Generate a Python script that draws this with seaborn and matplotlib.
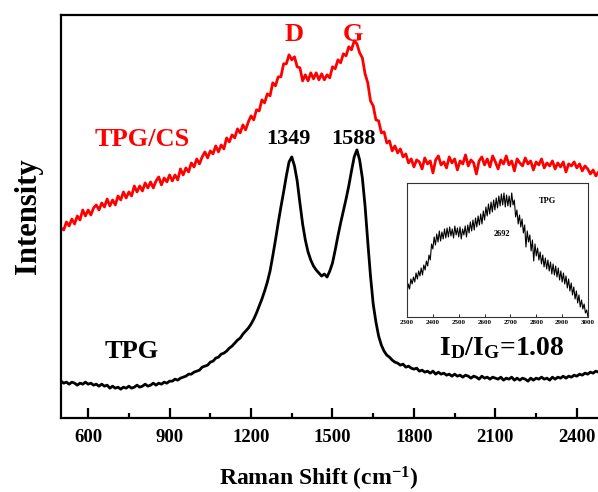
import numpy as np
import pandas as pd
import matplotlib
matplotlib.use("Agg")
import matplotlib.pyplot as plt
import seaborn as sns
from matplotlib.ticker import MultipleLocator

# Raman shift grid of the main spectra (cm-1), one value every 10 cm-1
shift = list(range(500, 2501, 10))

# TPG/CS spectrum (red)
tpgcs = [
    190, 188, 196, 192, 199, 194, 202, 198, 208, 202, 208, 203, 210, 213, 208, 215, 211, 219, 212, 218,
    213, 222, 218, 226, 220, 226, 222, 232, 226, 232, 227, 235, 230, 236, 230, 237, 241, 233, 240, 236,
    243, 237, 243, 238, 249, 243, 250, 246, 255, 251, 259, 254, 261, 266, 260, 267, 264, 272, 266, 273,
    269, 280, 276, 283, 280, 289, 285, 293, 288, 296, 302, 298, 308, 307, 318, 315, 324, 322, 335, 332,
    341, 341, 354, 354, 363, 358, 361, 351, 350, 337, 343, 337, 345, 339, 345, 338, 344, 338, 343, 340,
    351, 349, 358, 355, 364, 362, 371, 368, 377, 374, 365, 360, 344, 335, 317, 312, 298, 297, 285, 286,
    275, 277, 267, 272, 265, 269, 261, 264, 255, 259, 251, 258, 256, 249, 260, 254, 257, 245, 258, 262,
    253, 256, 250, 261, 255, 259, 248, 257, 254, 263, 252, 258, 255, 244, 257, 261, 253, 259, 251, 262,
    256, 249, 258, 254, 262, 253, 257, 247, 259, 255, 252, 260, 254, 257, 248, 256, 253, 259, 250, 255,
    252, 257, 249, 255, 251, 256, 246, 254, 252, 256, 250, 254, 247, 252, 249, 244, 248, 242, 246, 239,
    243,
]

# TPG spectrum (black)
tpg = [
    37, 35, 36, 34, 36, 35, 33, 35, 34, 36, 34, 35, 33, 34, 32, 34, 32, 33, 30, 32,
    30, 31, 29, 31, 30, 32, 30, 31, 33, 31, 32, 34, 32, 33, 35, 33, 35, 34, 36, 35,
    37, 37, 39, 38, 40, 41, 42, 44, 44, 46, 47, 48, 51, 52, 53, 56, 57, 60, 61, 64,
    65, 67, 70, 72, 75, 78, 80, 84, 87, 90, 94, 99, 105, 112, 119, 127, 136, 147, 162, 178,
    195, 211, 226, 242, 256, 261, 252, 237, 215, 194, 178, 166, 158, 152, 148, 145, 142, 144, 141, 147,
    155, 168, 182, 195, 207, 219, 232, 247, 261, 268, 258, 240, 212, 176, 142, 114, 96, 82, 73, 67,
    63, 61, 58, 56, 55, 53, 54, 51, 52, 50, 49, 50, 47, 48, 46, 47, 45, 47, 44, 46,
    44, 45, 43, 44, 42, 44, 42, 43, 41, 43, 42, 40, 42, 41, 39, 42, 40, 41, 39, 41,
    40, 39, 41, 38, 40, 39, 41, 38, 40, 38, 40, 39, 37, 40, 38, 40, 39, 41, 39, 40,
    38, 41, 39, 41, 40, 42, 40, 42, 41, 43, 42, 44, 43, 45, 44, 46, 45, 47, 46, 48,
    48,
]

# inset: 2D band region of TPG, every 5 cm-1
inset_shift = list(range(2300, 3001, 5))
inset_tpg = [
    24, 33, 28, 38, 33, 40, 35, 44, 38, 46, 41, 49, 42, 52, 47, 56, 51, 62, 57, 73,
    68, 80, 72, 83, 75, 86, 76, 85, 78, 88, 79, 89, 80, 90, 81, 88, 79, 91, 82, 89,
    80, 90, 78, 88, 82, 91, 80, 92, 84, 95, 86, 97, 87, 99, 90, 101, 92, 103, 93, 106,
    97, 110, 101, 113, 103, 115, 105, 117, 107, 119, 109, 121, 111, 123, 112, 124, 110, 122, 111, 121,
    110, 124, 112, 117, 100, 107, 93, 102, 90, 98, 84, 92, 70, 86, 75, 82, 66, 77, 56, 73,
    61, 69, 57, 65, 53, 62, 50, 59, 48, 57, 46, 55, 43, 53, 42, 51, 40, 49, 37, 46,
    35, 44, 33, 41, 29, 38, 26, 34, 22, 30, 18, 26, 14, 22, 10, 17, 8, 13, 4, 7,
    0,
]

main_df = pd.concat([
    pd.DataFrame({"shift": shift, "intensity": tpgcs, "sample": "TPG/CS"}),
    pd.DataFrame({"shift": shift, "intensity": tpg, "sample": "TPG"}),
])
inset_df = pd.DataFrame({"shift": inset_shift, "intensity": inset_tpg})

sns.set_style("ticks")
plt.rcParams["font.family"] = ["Liberation Serif", "DejaVu Serif"]
plt.rcParams["font.weight"] = "bold"
plt.rcParams["mathtext.default"] = "regular"
plt.rcParams["text.color"] = "black"
plt.rcParams["axes.labelcolor"] = "black"
plt.rcParams["xtick.color"] = "black"

fig = plt.figure(figsize=(5.98, 4.92), dpi=100)
ax = fig.add_axes([0.102, 0.150, 0.908, 0.820])

sns.lineplot(data=main_df, x="shift", y="intensity", hue="sample",
             palette={"TPG/CS": "#ff0000", "TPG": "#000000"},
             linewidth=2.0, legend=False, ax=ax, estimator=None)

ax.set_xlim(500, 2500)
ax.set_ylim(0, 403)
ax.xaxis.set_major_locator(MultipleLocator(300))
ax.xaxis.set_minor_locator(MultipleLocator(150))
ax.set_yticks([])
ax.tick_params(axis="x", which="major", direction="in", length=7, width=1.6,
               labelsize=13.5, pad=8, colors="black")
ax.tick_params(axis="x", which="minor", direction="in", length=3.5, width=1.6)
for lab in ax.get_xticklabels():
    lab.set_fontweight("bold")
for side in ["left", "bottom", "top", "right"]:
    ax.spines[side].set_linewidth(1.6)
    ax.spines[side].set_color("black")
ax.set_xlabel("")
ax.set_ylabel("")

fig.text(0.533, 0.014, r"Raman Shift (cm$^{-1}$)", ha="center", va="baseline",
         fontsize=17, fontweight="bold")
fig.text(0.047, 0.561, "Intensity", ha="center", va="center", rotation=90,
         fontsize=22, fontweight="bold")

ax.text(799, 278, "TPG/CS", color="#ff0000", fontsize=19, fontweight="bold",
        ha="center", va="center")
ax.text(759, 67, "TPG", color="black", fontsize=19, fontweight="bold",
        ha="center", va="center")
ax.text(1360, 383, "D", color="#ff0000", fontsize=19, fontweight="bold",
        ha="center", va="center")
ax.text(1574, 383, "G", color="#ff0000", fontsize=19, fontweight="bold",
        ha="center", va="center")
ax.text(1336, 279, "1349", color="black", fontsize=16, fontweight="bold",
        ha="center", va="center")
ax.text(1576, 279, "1588", color="black", fontsize=16, fontweight="bold",
        ha="center", va="center")
ax.text(2123, 63, r"I$_{D}$/I$_{G}$=1.08", color="black", fontsize=20,
        fontweight="bold", ha="center", va="baseline")

# inset
axin = fig.add_axes([0.6806, 0.3557, 0.3027, 0.2724])
sns.lineplot(data=inset_df, x="shift", y="intensity", color="black",
             linewidth=0.8, ax=axin, estimator=None)
axin.set_xlim(2300, 3000)
axin.set_ylim(0, 134)
axin.set_yticks([])
axin.xaxis.set_major_locator(MultipleLocator(100))
axin.tick_params(axis="x", direction="in", length=2, width=0.6, labelsize=5, pad=2)
for lab in axin.get_xticklabels():
    lab.set_fontweight("bold")
for side in axin.spines:
    axin.spines[side].set_linewidth(0.8)
    axin.spines[side].set_color("#333333")
axin.set_xlabel("")
axin.set_ylabel("")
axin.text(2845, 116, "TPG", fontsize=6, fontweight="bold", ha="center", va="center")
axin.text(2669, 83, "2692", fontsize=6, fontweight="bold", ha="center", va="center")

fig.savefig("out.png", dpi=100)
